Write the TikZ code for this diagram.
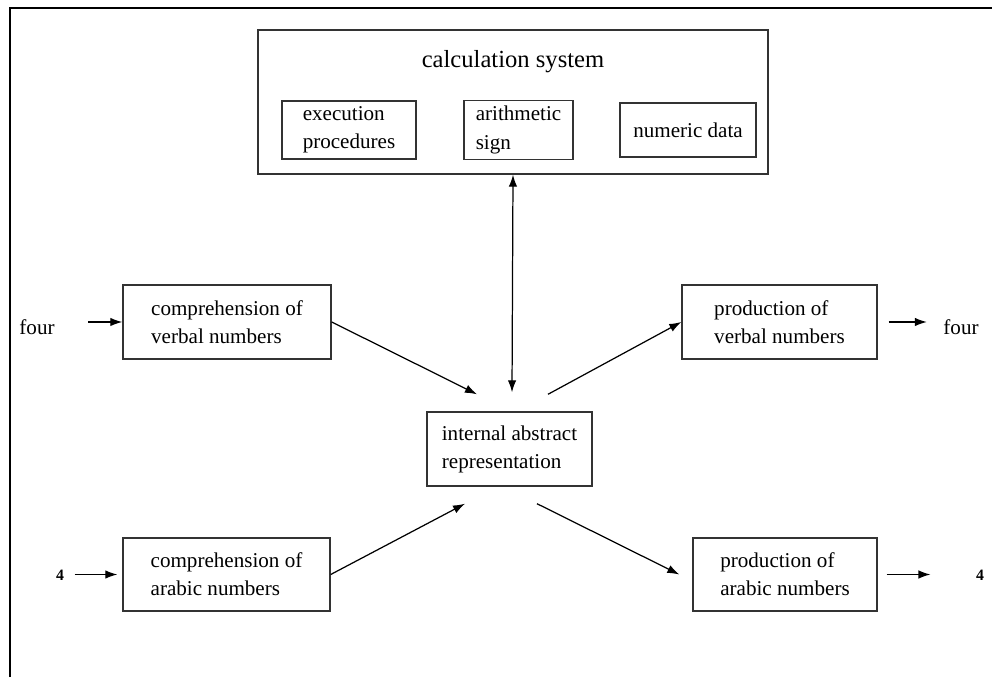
\documentclass[tikz,border=0pt]{standalone}
\usepackage{fontspec}
\setmainfont{Liberation Serif}
\usepackage{tikz}
\usetikzlibrary{arrows.meta}

\tikzset{
  box/.style={draw=black!80, line width=0.8pt, align=left, font=\fontsize{12}{16}\selectfont},
  lbl/.style={inner sep=0pt, font=\fontsize{12}{14}\selectfont},
}

\begin{document}
\begin{tikzpicture}[>={Latex[length=2.4mm,width=1.7mm]}, line width=0.7pt]
\useasboundingbox (0,0) rectangle (19.84,13.54);
\draw[line width=1.2pt] (0.2,0) -- (0.2,13.38) -- (19.84,13.38);

% calculation system
\node[box, minimum width=10.2cm, minimum height=2.88cm] (calc) at (10.26,11.5) {};
\node[font=\fontsize{14}{16}\selectfont] (calctitle) at ([yshift=-0.64cm]calc.north) {calculation system};
\node[box, minimum width=2.68cm, minimum height=1.08cm] (exec) at (6.98,10.94) {execution\\procedures};
\node[box, minimum width=2.18cm, minimum height=1.08cm] (arith) at (10.37,10.94) {arithmetic\\sign};
\node[box, minimum width=2.72cm, minimum height=1.08cm] (numdata) at (13.76,10.94) {numeric data};

% center
\node[box, minimum width=3.3cm, minimum height=1.48cm] (iar) at (10.19,4.56) {internal abstract\\representation};

% verbal
\node[box, minimum width=4.16cm, minimum height=1.48cm] (cv) at (4.54,7.1) {comprehension of\\verbal numbers};
\node[box, minimum width=3.9cm, minimum height=1.48cm] (pv) at (15.59,7.1) {production of\\verbal numbers};
\node[lbl] (fourin) at (0.74,7.0) {four};
\node[lbl] (fourout) at (19.22,7.0) {four};

% arabic
\node[box, minimum width=4.14cm, minimum height=1.46cm] (ca) at (4.53,2.05) {comprehension of\\arabic numbers};
\node[box, minimum width=3.68cm, minimum height=1.46cm] (pa) at (15.7,2.05) {production of\\arabic numbers};
\node[lbl, font=\fontsize{9}{10}\selectfont\bfseries] (fourin4) at (1.2,2.04) {4};
\node[lbl, font=\fontsize{9}{10}\selectfont\bfseries] (fourout4) at (19.6,2.04) {4};

% arrows
\draw[<->] (calc.south) -- ([shift={(0.05,0.38)}]iar.north);
\draw[->] (cv.east) -- ([shift={(-0.65,0.34)}]iar.north);
\draw[->] ([shift={(0.77,0.34)}]iar.north) -- (pv.west);
\draw[->] (ca.east) -- ([shift={(-0.89,-0.34)}]iar.south);
\draw[->] ([shift={(0.55,-0.34)}]iar.south) -- ([xshift=-0.26cm]pa.west);

\draw[->] ([xshift=0.66cm]fourin.east |- cv.west) -- (cv.west);
\draw[->] ([xshift=0.22cm]pv.east) -- ([xshift=-0.32cm]fourout.west |- pv.east);
\draw[->] ([xshift=0.2cm]fourin4.east |- ca.west) -- ([xshift=-0.1cm]ca.west);
\draw[->] ([xshift=0.18cm]pa.east) -- ([xshift=-0.9cm]fourout4.west |- pa.east);
\end{tikzpicture}
\end{document}
